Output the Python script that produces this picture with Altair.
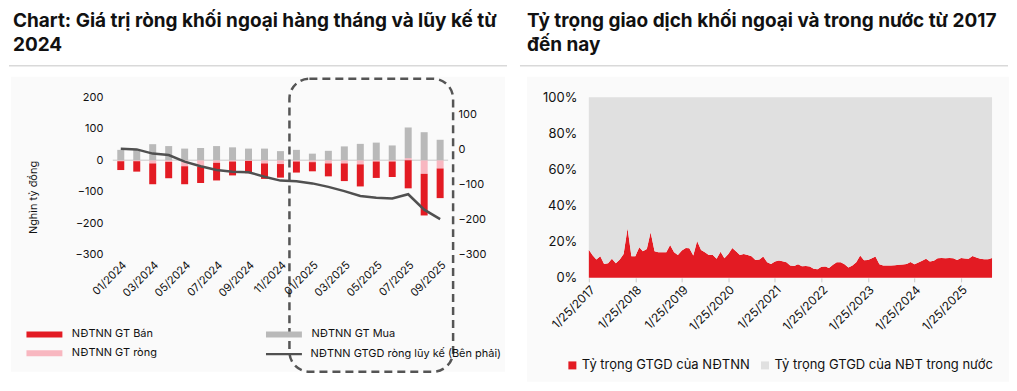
import altair as alt
import pandas as pd

FONT = "Inter"
RED = "#e31b23"
GRAY = "#b9b9b9"
PINK = "#f8b7c0"
LINE = "#505050"
DOM = "#e0e0e0"

# ---------------- left chart data ----------------
months = ["01/2024", "02/2024", "03/2024", "04/2024", "05/2024", "06/2024", "07/2024",
          "08/2024", "09/2024", "10/2024", "11/2024", "12/2024", "01/2025", "02/2025",
          "03/2025", "04/2025", "05/2025", "06/2025", "07/2025", "08/2025", "09/2025"]
tick_months = ["01/2024", "03/2024", "05/2024", "07/2024", "09/2024", "11/2024",
               "01/2025", "03/2025", "05/2025", "07/2025", "09/2025"]
buy = [33, 33, 51, 45, 37, 39, 45, 41, 37, 37, 29, 33, 21, 30, 44, 52, 56, 47, 97, 89, 65]
sell = [-28, -33, -66, -52, -57, -52, -56, -44, -39, -49, -43, -35, -29, -41, -56, -70,
        -52, -49, -89, -132, -94]
net = [-3, -3, -10, -5, -19, -20, -8, -4, -2, -10, -12, -4, -6, -10, -10, -13, -4, -4, 7,
       -43, -26]
cum = [3, 1, -11, -15, -34, -47, -58, -63, -64, -77, -88, -90, -96, -106, -118, -132, -137,
       -139, -127, -171, -198]

S_SELL = "NĐTNN GT Bán"
S_BUY = "NĐTNN GT Mua"
S_NET = "NĐTNN GT ròng"
S_CUM = "NĐTNN GTGD ròng lũy kế (Bên phải)"

# ---------------- right chart data ----------------
foreign_share = [
    15.6, 12.4, 10.1, 12.0, 7.7, 8.1, 10.5, 8.1, 10.1, 13.2, 27.4, 12.0,   # 2017
    12.0, 16.9, 14.7, 16.0, 25.2, 14.7, 14.2, 14.2, 14.2, 18.2, 14.2, 12.7,  # 2018
    15.1, 16.5, 16.4, 12.3, 20.4, 15.4, 14.2, 12.7, 12.7, 10.5, 14.5, 10.8,  # 2019
    13.2, 16.5, 14.7, 12.7, 13.2, 12.7, 12.0, 9.9, 10.1, 11.8, 8.6, 7.7,     # 2020
    9.0, 9.6, 9.2, 8.6, 6.8, 6.6, 7.5, 6.4, 6.6, 6.3, 5.0, 4.8,              # 2021
    6.1, 6.3, 5.5, 7.2, 8.6, 8.6, 7.5, 5.7, 6.8, 8.6, 12.3, 9.7,             # 2022
    9.9, 10.8, 11.8, 7.5, 6.8, 6.8, 6.8, 7.0, 7.2, 7.4, 7.7, 8.8,            # 2023
    7.5, 8.5, 9.4, 10.5, 9.0, 9.4, 10.8, 11.0, 10.8, 11.0, 10.8, 9.9,        # 2024
    11.0, 10.7, 10.5, 12.1, 11.2, 10.5, 10.3, 10.3, 11.0,                    # 2025
]
dates = [f"{y}-{m:02d}-25" for y in range(2017, 2026) for m in range(1, 13)][:len(foreign_share)]
tick_years = list(range(2017, 2026))
A_FOR = "Tỷ trọng GTGD của NĐTNN"
A_DOM = "Tỷ trọng GTGD của NĐT trong nước"

TITLE_L = ["Chart: Giá trị ròng khối ngoại hàng tháng và lũy kế từ", "2024"]
TITLE_R = ["Tỷ trọng giao dịch khối ngoại và trong nước từ 2017", "đến nay"]

one = pd.DataFrame({"k": [0]})

# ---------------- left panel ----------------
rows = []
for m, b, s, n in zip(months, buy, sell, net):
    rows.append(dict(month=m, series=S_NET, value=n, ord=0))
    rows.append(dict(month=m, series=S_BUY, value=b, ord=1))
    rows.append(dict(month=m, series=S_SELL, value=s, ord=2))
bars_df = pd.DataFrame(rows)
line_df = pd.DataFrame(dict(month=months, lser=S_CUM, value=cum))

W1, H1 = 336, 158
xs = alt.Scale(domain=months, paddingInner=0.5625, paddingOuter=0.28125)
cs = alt.Scale(domain=[S_SELL, S_BUY, S_NET], range=[RED, GRAY, PINK])
cs_line = alt.Scale(domain=[S_CUM], range=[LINE])

bar_leg = alt.Legend(
    title=None, orient="none", legendX=-74, legendY=232, columns=2, direction="horizontal",
    columnPadding=108, rowPadding=7, labelFontSize=11, labelFont=FONT, labelLimit=300,
    labelColor="#111", symbolType="M-6,-1H6V1H-6Z", symbolSize=36, labelOffset=22,
    symbolStrokeWidth=0, symbolOpacity=1)
line_leg = alt.Legend(
    title=None, orient="none", legendX=166, legendY=252, labelFontSize=11, labelFont=FONT,
    labelColor="#111", symbolType="M-6,0H6", symbolSize=36, labelOffset=21, labelLimit=300,
    symbolStrokeWidth=2.2, symbolOpacity=1)

xax = alt.Axis(values=tick_months, labelAngle=315, title=None, ticks=False, domain=False,
               labelFontSize=11, labelPadding=4, labelColor="#111", grid=False, zindex=2,
               labelOverlap=False)

left_y_axis = alt.Axis(values=[-300, -200, -100, 0, 100, 200], title="Nghìn tỷ đồng",
                       titleAngle=270, titleX=-79, titleY=100, titleAlign="center",
                       titleBaseline="middle", titleFontSize=11, titleFontWeight="normal",
                       titleColor="#111", labelFontSize=11, labelColor="#111",
                       labelPadding=10, ticks=False, domain=False, grid=False, zindex=2)

bars = alt.Chart(bars_df).mark_bar().encode(
    x=alt.X("month:N", scale=xs, sort=months, axis=xax),
    y=alt.Y("value:Q", stack="zero", scale=alt.Scale(domain=[-300, 200], nice=False),
            axis=left_y_axis),
    color=alt.Color("series:N", scale=cs, legend=bar_leg),
    order=alt.Order("ord:Q"),
)
zero = alt.Chart(one).mark_rule(color="#d9d9d9", strokeWidth=1.5).encode(
    y=alt.Y("k:Q", scale=alt.Scale(domain=[-300, 200], nice=False), axis=left_y_axis))
line = alt.Chart(line_df).mark_line(strokeWidth=2.5).encode(
    x=alt.X("month:N", scale=xs, sort=months, axis=xax),
    y=alt.Y("value:Q", scale=alt.Scale(domain=[-300, 150], nice=False),
            axis=alt.Axis(orient="right", values=[-300, -200, -100, 0, 100], title=None,
                          labelFontSize=11, labelColor="#111", labelPadding=10,
                          ticks=False, domain=False, grid=False, zindex=2)),
    color=alt.Color("lser:N", scale=cs_line, legend=line_leg),
)


def deco_panel(x0, x1, bg_x0, bg_x1, bg_y1, sep_x0, sep_x1, title, tx):
    anchor = alt.Chart(one).mark_rect(opacity=0).encode(
        x=alt.value(x0), x2=alt.value(x1), y=alt.value(-89), y2=alt.value(bg_y1))
    bg = alt.Chart(one).mark_rect(fill="#fafafa").encode(
        x=alt.value(bg_x0), x2=alt.value(bg_x1), y=alt.value(-20.5), y2=alt.value(bg_y1))
    sep = alt.Chart(one).mark_rule(color="#d9d9d9", strokeWidth=1.5).encode(
        x=alt.value(sep_x0), x2=alt.value(sep_x1), y=alt.value(-31.5))
    ttl = alt.Chart(one).mark_text(align="left", baseline="alphabetic", font=FONT,
                                   fontSize=19, fontWeight="bold", lineHeight=24,
                                   color="#111").encode(
        x=alt.value(tx), y=alt.value(-70), text=alt.value(title))
    return anchor, bg, sep, ttl


a1, bg1, sep1, t1 = deco_panel(-104, 395, -102, 393, 275, -104, 395, TITLE_L, -100)
box = alt.Chart(one).mark_rect(fillOpacity=0, stroke="#555555", strokeWidth=2.5,
                               strokeDash=[8, 5], cornerRadius=20).encode(
    x=alt.value(177), x2=alt.value(341), y=alt.value(-18.5), y2=alt.value(275))

bars_layer = alt.layer(zero, bars)
left = alt.layer(a1, bg1, sep1, t1, bars_layer, line, box).resolve_scale(
    y="independent", color="independent").properties(width=W1, height=H1)

# ---------------- right panel ----------------
W2, H2 = 404, 181
area_df = pd.DataFrame({"date": dates, "foreign": foreign_share})
cs2 = alt.Scale(domain=[A_FOR, A_DOM], range=[RED, DOM])
area = alt.Chart(area_df).transform_calculate(
    domestic="100 - datum.foreign"
).transform_fold(["foreign", "domestic"], as_=["key", "pct"]).transform_calculate(
    grp=f"datum.key === 'foreign' ? '{A_FOR}' : '{A_DOM}'",
    ord="datum.key === 'foreign' ? 0 : 1",
).mark_area(interpolate="linear").encode(
    x=alt.X("date:T", scale=alt.Scale(type="utc", nice=False),
            axis=alt.Axis(values=[alt.DateTime(year=y, month=1, date=25, utc=True) for y in tick_years],
                          format="%-m/%-d/%Y", labelAngle=315, title=None, domain=False,
                          ticks=True, tickColor="#cccccc", tickSize=4, labelFontSize=12,
                          labelColor="#111", labelPadding=2, grid=False, zindex=2,
                          labelOverlap=False)),
    y=alt.Y("pct:Q", stack="zero", scale=alt.Scale(domain=[0, 100], nice=False),
            axis=alt.Axis(values=[0, 20, 40, 60, 80, 100], labelExpr="datum.value + '%'",
                          title=None, ticks=False, domain=False, grid=False, zindex=2,
                          labelFontSize=13, labelColor="#111", labelPadding=12)),
    color=alt.Color("grp:N", scale=cs2, legend=alt.Legend(
        title=None, orient="none", legendX=-23, legendY=262, direction="horizontal",
        symbolType="square", symbolSize=64, labelFontSize=13, labelFont=FONT,
        labelLimit=300, labelColor="#111", labelOffset=3, columnPadding=8,
        symbolStrokeWidth=0)),
    order=alt.Order("ord:Q"),
)

a2, bg2, sep2, t2 = deco_panel(-62, 421, -62, 421, 285, -69, 420, TITLE_R, -62)
right = alt.layer(a2, bg2, sep2, t2, area).properties(width=W2, height=H2)

chart = alt.hconcat(left, right, spacing=141, bounds="flush").resolve_scale(
    color="independent"
).properties(padding=0).configure_view(stroke=None).configure_axis(
    labelFont=FONT, titleFont=FONT
).configure_legend(labelFont=FONT)

chart.save("out.html", embed_options={"renderer": "svg", "actions": False})
